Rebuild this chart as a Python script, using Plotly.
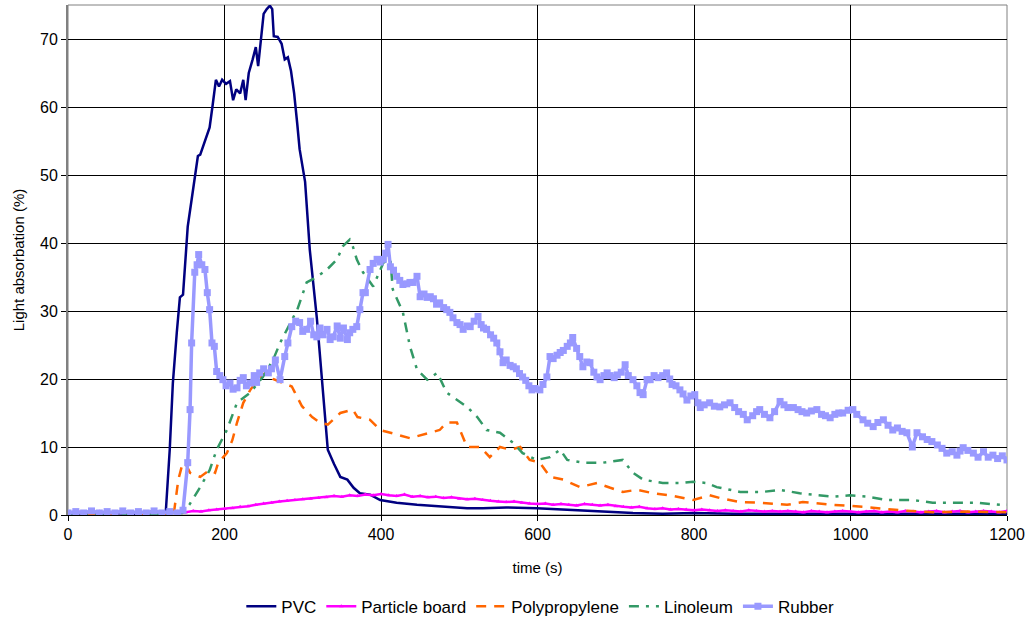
import plotly.graph_objects as go

# ---------------- data ----------------
pvc_t = [0, 20, 40, 60, 80, 100, 120, 125, 130, 134, 139, 143, 147, 150, 153, 158, 162, 166, 169, 175,
         181, 185, 189, 193, 197, 202, 207, 211, 215, 220, 224, 227, 231, 236, 240, 243, 247, 250, 254, 258,
         261, 263, 268, 273, 277, 281, 285, 289, 293, 296, 303, 309, 318, 325, 332, 340, 348, 357, 365, 373,
         386, 399, 420, 446, 470, 488, 510, 530, 560, 599, 630, 658, 690, 722, 760, 800, 850, 900, 950, 1000,
         1050, 1100, 1150, 1200]
pvc_y = [0.2, 0.3, 0.2, 0.3, 0.2, 0.3, 0.2, 0.5, 9.6, 19.4, 26.8, 32.0, 32.4, 37.6, 42.4, 46.4, 49.8, 52.8, 53.0, 55.0,
         57.0, 60.4, 64.0, 63.0, 64.0, 63.4, 63.8, 61.0, 62.6, 62.0, 64.0, 61.0, 65.0, 67.0, 68.8, 66.0, 70.0, 73.7, 74.4, 74.9,
         74.4, 70.4, 70.3, 69.3, 67.0, 67.3, 65.3, 62.0, 57.5, 53.8, 49.0, 39.0, 29.0, 19.4, 9.6, 7.5, 5.6, 5.2, 4.0, 3.2,
         3.0, 2.2, 1.8, 1.5, 1.3, 1.2, 1.0, 1.0, 1.1, 1.0, 0.8, 0.7, 0.5, 0.3, 0.2, 0.3, 0.2, 0.2, 0.3, 0.2,
         0.3, 0.2, 0.3, 0.2]

pb_t = list(range(0, 1201, 10))
pb_y = [0.3, 0.5, 0.4, 0.3, 0.5, 0.3, 0.4, 0.5, 0.3, 0.4, 0.3, 0.5, 0.4,
        0.4, 0.5, 0.4, 0.6, 0.5, 0.7, 0.8, 0.9,
        1.0, 1.2, 1.3, 1.5, 1.7, 1.8, 2.0, 2.1, 2.2, 2.3,
        2.4, 2.5, 2.6, 2.8, 2.7, 2.9, 2.8, 3.0, 2.9, 3.1,
        2.9, 2.8, 3.0, 2.7, 2.8, 2.6, 2.7, 2.5, 2.6, 2.4,
        2.3, 2.4, 2.2, 2.1, 2.0, 1.9, 2.0, 1.8, 1.7, 1.6,
        1.7, 1.5, 1.6, 1.5, 1.4, 1.6, 1.5, 1.4, 1.5, 1.3,
        1.2, 1.1, 1.2, 1.0, 0.9, 1.0, 0.8, 0.9, 0.8, 0.7,
        0.8, 0.7, 0.6, 0.7, 0.6, 0.5, 0.7, 0.6, 0.5, 0.6,
        0.5, 0.6, 0.5, 0.4, 0.6, 0.5, 0.4, 0.5, 0.6, 0.5,
        0.4, 0.5, 0.6, 0.4, 0.5, 0.4, 0.6, 0.5, 0.4, 0.5,
        0.6, 0.4, 0.5, 0.6, 0.4, 0.5, 0.6, 0.5, 0.4, 0.6]

pp_t = [0, 50, 100, 135, 141, 146, 150, 156, 169, 181, 188, 192, 203, 210, 216, 224, 233, 245, 254, 262,
        275, 286, 290, 299, 312, 322, 332, 348, 364, 370, 386, 399, 415, 437, 459, 475, 484, 497, 510, 527,
        539, 552, 565, 578, 590, 603, 616, 633, 654, 676, 693, 709, 727, 748, 769, 799, 820, 833, 859, 884,
        919, 939, 978, 1016, 1063, 1105, 1150, 1200]
pp_y = [0.0, 0.0, 0.0, 0.0, 5.2, 7.4, 7.6, 6.2, 5.6, 6.6, 6.2, 7.7, 9.1, 11.0, 13.6, 16.5, 18.4, 20.3, 21.0, 20.0,
        19.4, 18.9, 18.0, 16.0, 14.4, 13.6, 13.3, 15.0, 15.5, 14.4, 14.0, 12.5, 12.0, 11.3, 12.0, 12.5, 13.6, 13.6, 10.0, 10.0,
        8.5, 10.0, 9.6, 10.0, 8.1, 7.7, 5.6, 5.2, 4.1, 4.7, 4.0, 3.4, 3.7, 3.2, 2.9, 2.2, 2.9, 2.5, 1.9, 1.8,
        1.5, 1.9, 1.5, 1.2, 0.7, 0.4, 0.5, 0.4]

lin_t = [0, 100, 146, 155, 169, 181, 190, 203, 216, 233, 249, 262, 271, 280, 293, 305, 318, 331, 344, 351,
         360, 364, 369, 377, 390, 403, 412, 415, 428, 437, 446, 459, 472, 484, 497, 510, 523, 535, 552, 569,
         581, 599, 616, 629, 638, 658, 684, 709, 722, 735, 760, 782, 799, 816, 829, 859, 888, 910, 935, 978,
         999, 1021, 1047, 1080, 1105, 1127, 1162, 1191, 1200]
lin_y = [0.0, 0.0, 0.3, 1.5, 4.1, 6.6, 9.6, 12.5, 16.5, 18.0, 20.3, 22.8, 25.3, 27.3, 30.2, 34.2, 35.0, 36.1, 37.6, 39.5,
         40.5, 39.5, 37.6, 35.7, 33.6, 37.1, 37.6, 33.2, 29.8, 24.8, 21.4, 19.9, 20.9, 18.0, 16.9, 15.9, 14.4, 12.5, 12.1, 10.6,
         9.1, 8.1, 8.5, 9.6, 8.1, 7.7, 7.7, 8.1, 6.2, 5.2, 4.7, 4.7, 4.9, 4.7, 4.1, 3.4, 3.4, 3.7, 3.2, 2.7,
         2.9, 2.7, 2.2, 2.2, 1.8, 1.8, 1.8, 1.5, 1.5]

rub_t = [0, 10, 20, 30, 40, 50, 60, 70, 80, 90, 100, 110, 120, 130, 140,
         147, 153, 156, 158, 162, 165, 167, 171, 175, 178, 181, 184, 187, 190, 194, 198, 202, 207, 211, 216,
         220, 224, 228, 233, 238, 241, 245, 250, 256, 260, 265, 271, 277, 281, 286, 291, 296, 300, 305, 310,
         314, 318, 322, 326, 331, 335, 339, 344, 348, 352, 357, 360, 364, 369, 373, 377, 380, 386, 390, 395,
         399, 403, 406, 409, 412, 416, 420, 424, 428, 433, 437, 441, 446, 450, 455, 459, 463, 467, 471, 475,
         480, 484, 488, 492, 497, 501, 505, 510, 514, 519, 524, 528, 531, 535, 540, 544, 548, 552, 556, 560,
         565, 569, 573, 577, 581, 585, 589, 593, 597, 603, 607, 612, 616, 620, 625, 629, 633, 638, 642, 645,
         650, 654, 658, 663, 667, 672, 676, 680, 685, 689, 693, 698, 702, 707, 712, 716, 722, 727, 731, 735,
         740, 744, 749, 754, 760, 765, 769, 772, 777, 782, 786, 791, 796, 801, 805, 808, 813, 820, 826, 833,
         839, 846, 852, 857, 863, 868, 875, 880, 884, 890, 897, 903, 910, 915, 920, 927, 933, 938, 944, 950,
         957, 963, 968, 974, 980, 985, 990, 997, 1003, 1008, 1016, 1022, 1029, 1035, 1042, 1048, 1054, 1060, 1066, 1072,
         1079, 1085, 1092, 1098, 1104, 1111, 1117, 1123, 1130, 1136, 1140, 1144, 1150, 1157, 1163, 1170, 1176, 1182, 1188, 1194,
         1200]
rub_y = [0.3, 0.5, 0.3, 0.6, 0.3, 0.5, 0.3, 0.6, 0.3, 0.5, 0.3, 0.6, 0.3, 0.5, 0.3,
         0.7, 7.7, 15.5, 25.3, 35.7, 36.8, 38.3, 36.8, 36.1, 32.7, 30.2, 25.3, 24.8, 21.1, 20.5, 19.9, 19.0, 19.4, 18.5, 18.7,
         19.8, 20.2, 19.0, 19.4, 20.5, 19.5, 20.9, 21.5, 20.9, 21.5, 22.8, 19.9, 23.3, 25.3, 27.7, 28.5, 28.3, 27.0, 27.3, 28.5,
         26.5, 26.2, 27.5, 26.5, 27.3, 25.8, 26.2, 27.8, 26.0, 27.5, 25.8, 26.8, 27.3, 27.7, 30.2, 32.7, 32.7, 36.1, 37.0, 37.6,
         37.2, 37.6, 38.5, 39.8, 36.5, 36.0, 35.1, 34.5, 33.9, 34.0, 34.2, 34.2, 35.1, 32.1, 32.5, 32.0, 32.1, 31.8, 31.0, 31.2,
         30.5, 30.2, 29.8, 29.0, 28.3, 28.0, 27.3, 27.8, 27.7, 28.5, 29.2, 28.0, 27.5, 27.3, 26.5, 26.0, 25.3, 24.0, 22.4, 22.8,
         22.0, 21.8, 21.5, 20.8, 20.3, 19.8, 19.0, 18.4, 18.6, 18.4, 19.2, 20.3, 23.3, 23.0, 23.5, 23.9, 24.2, 24.8, 25.3, 26.1,
         24.5, 23.3, 21.8, 22.5, 22.4, 21.0, 20.3, 19.9, 20.5, 20.9, 20.5, 20.2, 20.6, 21.0, 22.1, 20.5, 19.9, 19.0, 18.0, 17.7,
         19.9, 19.9, 20.5, 20.2, 20.5, 20.9, 20.0, 19.2, 19.0, 18.4, 17.8, 16.9, 17.5, 17.7, 16.5, 15.8, 16.2, 16.5, 16.0, 15.9,
         16.2, 16.5, 15.8, 15.2, 14.8, 14.0, 14.6, 15.2, 15.5, 14.8, 14.3, 15.2, 16.7, 16.2, 15.8, 15.8, 15.5, 15.2, 15.0, 15.3,
         15.5, 14.8, 14.6, 14.3, 14.8, 15.0, 15.0, 15.4, 15.5, 14.8, 14.0, 13.5, 13.0, 13.6, 14.0, 13.2, 12.5, 12.8, 12.3, 12.1,
         10.0, 12.1, 11.5, 11.1, 10.8, 10.3, 9.8, 9.1, 9.3, 8.8, 9.4, 9.9, 9.5, 9.1, 8.5, 9.3, 8.5, 8.8, 8.3, 8.7,
         8.1]

x_ticks = [0, 200, 400, 600, 800, 1000, 1200]
y_ticks = [0, 10, 20, 30, 40, 50, 60, 70]

# ---------------- figure ----------------
fig = go.Figure()
fig.add_trace(go.Scatter(x=pvc_t, y=pvc_y, name="PVC", mode="lines",
                         line=dict(color="#000080", width=2.5)))
fig.add_trace(go.Scatter(x=pb_t, y=pb_y, name="Particle board", mode="lines+markers",
                         line=dict(color="#FF00FF", width=2.5),
                         marker=dict(symbol="triangle-up", size=4, color="#FF00FF")))
fig.add_trace(go.Scatter(x=pp_t, y=pp_y, name="Polypropylene", mode="lines",
                         line=dict(color="#FF6600", width=2.5, dash="10px,8px")))
fig.add_trace(go.Scatter(x=lin_t, y=lin_y, name="Linoleum", mode="lines",
                         line=dict(color="#339966", width=2.5, dash="10px,7px,3px,7px")))
fig.add_trace(go.Scatter(x=rub_t, y=rub_y, name="Rubber", mode="lines+markers",
                         line=dict(color="#9999FF", width=3.5),
                         marker=dict(symbol="square", size=7, color="#9999FF")))

fig.update_layout(
    width=1027, height=620,
    paper_bgcolor="white", plot_bgcolor="white",
    margin=dict(l=68, r=20, t=5, b=105, autoexpand=False),
    font=dict(family="Liberation Sans, Arial, sans-serif", size=16, color="black"),
    legend=dict(orientation="h", x=0.503, xanchor="center", y=-0.18, yanchor="middle",
                font=dict(size=17), tracegroupgap=0, bgcolor="rgba(0,0,0,0)"),
    showlegend=True,
)
fig.update_xaxes(range=[0, 1200], tickvals=x_ticks, showgrid=True, gridcolor="black", gridwidth=1,
                 zeroline=False, showline=True, linecolor="black", linewidth=1, mirror=False,
                 ticks="outside", ticklen=5, tickcolor="black", tickfont=dict(size=16),
                 automargin=False,
                 title=dict(text="time (s)", font=dict(size=15), standoff=20))
fig.update_yaxes(range=[0, 75], tickvals=y_ticks, showgrid=True, gridcolor="black", gridwidth=1,
                 zeroline=False, showline=True, linecolor="#808080", linewidth=2,
                 ticks="outside", ticklen=5, tickcolor="black", tickfont=dict(size=16),
                 automargin=False,
                 title=dict(text="Light absorbation (%)", font=dict(size=15), standoff=12))
# gray border on top/right of plot area
fig.add_shape(type="rect", xref="paper", yref="paper", x0=0, y0=0, x1=1, y1=1,
              line=dict(color="#808080", width=1), layer="below")

fig.write_html("out.html", config={"displayModeBar": False},
               post_script="document.body.style.margin='0';")
